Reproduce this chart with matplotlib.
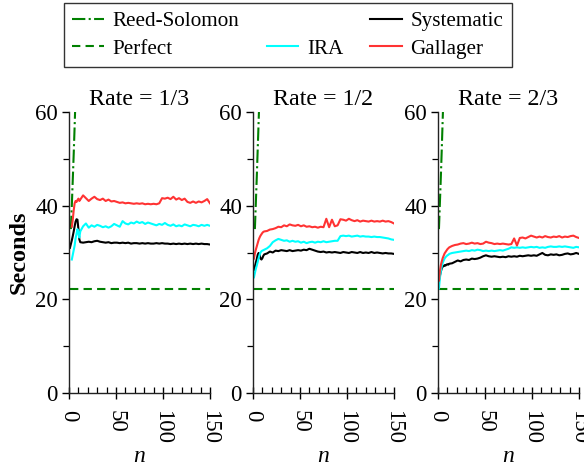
import numpy as np
import matplotlib.pyplot as plt
from matplotlib.lines import Line2D
from matplotlib.ticker import MultipleLocator

plt.rcParams['font.family'] = ['Liberation Serif', 'DejaVu Serif']

# block sizes n shared by the three rate panels
n_vals = [1, 2, 3, 4, 5, 6, 7, 8, 9, 10, 11, 12,
          15, 18, 21, 24, 27, 30, 33, 36, 39, 42, 45, 48, 51, 54, 57, 60,
          63, 66, 69, 72, 75, 78, 81, 84, 87, 90, 93, 96, 99, 102, 105, 108,
          111, 114, 117, 120, 123, 126, 129, 132, 135, 138, 141, 144, 147, 150]

rates = ['Rate = 1/3', 'Rate = 1/2', 'Rate = 2/3']
perfect = 22.3

rs_n = [[2, 3, 4, 5, 6, 7], [2, 3, 4, 5, 6, 7], [1, 2, 3, 4, 5, 6]]
rs_sec = [[35.0, 40.0, 45.5, 51.0, 57.0, 63.5],
          [35.0, 40.5, 46.0, 52.0, 58.0, 64.5],
          [35.0, 40.5, 46.0, 52.0, 58.5, 65.0]]

systematic = [
    [31.0, 31.8, 32.6, 33.5, 34.5, 35.6, 36.6, 37.1, 37.0, 35.0, 32.8, 32.2,
     32.1, 32.2, 32.3, 32.2, 32.4, 32.5, 32.3, 32.2, 32.1, 32.2, 32.0, 32.1,
     32.1, 32.0, 32.1, 32.0, 32.1, 31.9, 32.0, 32.0, 31.9, 32.0, 31.9, 32.0,
     31.9, 31.9, 32.0, 31.9, 32.0, 31.9, 31.9, 31.8, 31.9, 31.8, 31.9, 31.8,
     31.9, 31.8, 31.9, 31.8, 31.9, 31.8, 31.9, 31.8, 31.8, 31.7],
    [26.3, 27.0, 27.8, 28.6, 29.5, 29.9, 29.5, 28.7, 28.5, 28.8, 29.3, 29.6,
     29.8, 30.2, 30.0, 30.4, 30.3, 30.5, 30.4, 30.3, 30.5, 30.3, 30.4, 30.5,
     30.4, 30.6, 30.5, 30.8, 30.6, 30.4, 30.2, 30.1, 30.2, 30.0, 30.1, 30.0,
     30.1, 30.0, 29.9, 30.1, 30.0, 29.9, 30.1, 30.0, 29.9, 30.1, 29.9, 30.0,
     29.9, 30.1, 29.9, 30.0, 29.9, 29.8, 29.9, 29.8, 29.8, 29.7],
    [23.9, 25.0, 25.9, 26.6, 27.0, 27.1, 27.3, 27.2, 27.4, 27.5, 27.4, 27.6,
     27.7, 28.0, 28.3, 28.1, 28.4, 28.5, 28.4, 28.7, 28.6, 28.7, 28.9, 29.2,
     29.4, 29.2, 29.1, 29.2, 29.1, 29.0, 29.1, 29.0, 29.2, 29.1, 29.2, 29.1,
     29.3, 29.2, 29.3, 29.4, 29.3, 29.4, 29.3, 29.6, 29.9, 29.5, 29.4, 29.6,
     29.5, 29.6, 29.4, 29.5, 29.7, 29.8, 29.6, 29.7, 29.9, 29.7],
]

ira = [
    [np.nan, np.nan, 28.5, 29.5, 30.5, 31.5, 33.0, 34.0, 35.0, 34.2, 33.2, 34.5,
     35.6, 36.2, 35.3, 35.8, 35.5, 35.9, 35.7, 35.4, 35.6, 35.3, 35.6, 36.1,
     35.8, 35.5, 36.7, 36.2, 36.0, 36.4, 36.2, 36.6, 36.3, 36.5, 36.1, 36.4,
     36.2, 36.0, 35.8, 36.1, 35.9, 36.3, 35.9, 35.7, 36.0, 35.6, 35.8, 35.6,
     36.0, 35.8, 35.6, 35.9, 35.8, 35.6, 35.9, 35.7, 35.9, 35.7],
    [24.7, 25.6, 26.5, 27.2, 28.0, 28.8, 29.5, 30.0, 30.3, 30.4, 30.5, 30.6,
     30.9, 31.4, 32.2, 32.6, 32.9, 32.7, 32.5, 32.6, 32.3, 32.5, 32.3, 32.4,
     32.1, 32.3, 32.0, 32.2, 32.3, 32.1, 32.3, 32.2, 32.4, 32.2, 32.3, 32.4,
     32.5, 32.5, 33.5, 33.6, 33.5, 33.6, 33.4, 33.5, 33.6, 33.4, 33.5, 33.4,
     33.4, 33.3, 33.4, 33.3, 33.3, 33.2, 33.1, 33.0, 32.8, 32.7],
    [22.3, 24.5, 26.0, 27.0, 27.8, 28.3, 28.7, 29.0, 29.2, 29.4, 29.5, 29.7,
     29.9, 30.0, 30.1, 30.2, 30.3, 30.4, 30.3, 30.5, 30.4, 30.6, 30.5, 30.3,
     30.4, 30.3, 30.4, 30.3, 30.4, 30.5, 30.4, 30.6, 30.8, 31.1, 31.0, 31.1,
     31.0, 31.1, 31.0, 31.1, 31.2, 31.1, 31.2, 31.0, 31.1, 31.0, 31.2, 31.3,
     31.2, 31.2, 31.3, 31.2, 31.3, 31.2, 31.1, 31.0, 31.2, 31.1],
]

gallager = [
    [np.nan, np.nan, 35.5, 37.0, 39.0, 40.5, 41.0, 40.8, 41.2, 41.5, 41.0, 41.3,
     42.2, 41.6, 41.0, 41.5, 41.9, 41.4, 41.2, 41.5, 41.0, 41.3, 40.9, 41.0,
     40.8, 40.6, 40.7, 40.5, 40.6, 40.5, 40.4, 40.5, 40.4, 40.5, 40.3, 40.4,
     40.3, 40.4, 40.3, 40.5, 41.6, 41.5, 41.7, 41.4, 41.9, 41.3, 41.6, 41.2,
     41.5, 40.8, 40.6, 40.9, 40.6, 40.9, 40.7, 41.0, 41.4, 40.5],
    [28.7, 29.8, 30.6, 31.3, 32.0, 32.7, 33.2, 33.6, 33.9, 34.2, 34.4, 34.5,
     34.6, 34.9, 35.0, 35.2, 35.5, 35.4, 35.8, 35.6, 36.0, 35.8, 35.7, 35.9,
     35.6, 35.8, 35.5, 35.6, 35.4, 35.5, 35.3, 35.5, 35.4, 37.2, 35.4, 37.0,
     35.6, 35.8, 37.1, 37.0, 36.8, 37.2, 36.9, 36.7, 36.9, 36.6, 36.8, 36.7,
     36.6, 36.8, 36.6, 36.7, 36.6, 36.8, 36.6, 36.7, 36.5, 36.2],
    [24.0, 26.0, 27.3, 28.1, 28.8, 29.3, 29.8, 30.1, 30.4, 30.7, 30.9, 31.1,
     31.4, 31.6, 31.7, 31.9, 32.0, 31.8, 31.9, 32.1, 31.9, 32.0, 31.8, 31.9,
     32.3, 32.1, 32.0, 31.8, 31.9, 31.8, 31.9, 31.8, 31.7, 31.8, 33.0, 31.5,
     33.1, 33.2, 33.0, 33.3, 33.6, 33.4, 33.2, 33.4, 33.2, 33.5, 33.3, 33.2,
     33.4, 33.3, 33.5, 33.2, 33.4, 33.3, 33.5, 33.6, 33.3, 33.1],
]

GREEN = '#008000'
CYAN = '#00ffff'
RED = '#ff3333'
LW = 1.5

fig = plt.figure(figsize=(5.84, 4.66), dpi=100)
lefts = [69 / 584, 253 / 584, 438 / 584]
axes = [fig.add_axes([l, 73 / 466, 141 / 584, 281 / 466]) for l in lefts]

for i, ax in enumerate(axes):
    ax.plot(rs_n[i], rs_sec[i], color=GREEN, ls='-.', lw=LW)
    ax.plot([n_vals[0], n_vals[-1]], [perfect, perfect], color=GREEN,
            ls=(0, (4, 2.5)), lw=LW)
    ax.plot(n_vals, systematic[i], color='black', lw=LW)
    ax.plot(n_vals, ira[i], color=CYAN, lw=LW)
    ax.plot(n_vals, gallager[i], color=RED, lw=LW)

    ax.set_xlim(0, 150)
    ax.set_ylim(0, 60)
    for s in ['top', 'right']:
        ax.spines[s].set_visible(False)
    for s in ['left', 'bottom']:
        ax.spines[s].set_linewidth(1.0)
        ax.spines[s].set_color('#222222')

    ax.xaxis.set_major_locator(MultipleLocator(50))
    ax.xaxis.set_minor_locator(MultipleLocator(10))
    ax.yaxis.set_major_locator(MultipleLocator(20))
    ax.yaxis.set_minor_locator(MultipleLocator(10))
    ax.tick_params(axis='x', which='major', direction='inout', length=8,
                   width=1.0, labelsize=16.5, pad=8, labelrotation=270)
    ax.tick_params(axis='x', which='minor', direction='in', length=4,
                   width=0.9)
    ax.tick_params(axis='y', which='major', direction='out', length=5,
                   width=1.0, labelsize=16.5, pad=3)
    ax.tick_params(axis='y', which='minor', direction='out', length=4,
                   width=0.9)

    ax.set_title(rates[i], fontsize=17.3, pad=5)
    ax.set_xlabel('n', fontsize=17, fontstyle='italic', labelpad=2)

axes[0].set_ylabel('Seconds', fontsize=17.5, fontweight='bold', labelpad=4)

handles = [
    Line2D([], [], color=GREEN, ls='-.', lw=LW),
    Line2D([], [], color=GREEN, ls=(0, (4, 2.5)), lw=LW),
    Line2D([], [], color='none'),
    Line2D([], [], color=CYAN, lw=LW),
    Line2D([], [], color='black', lw=LW),
    Line2D([], [], color=RED, lw=LW),
]
labels = ['Reed-Solomon', 'Perfect', ' ', 'IRA', 'Systematic', 'Gallager']
leg = fig.legend(handles, labels, ncol=3, loc='upper center',
                 bbox_to_anchor=(0.493, 0.994), fontsize=15.2, frameon=True,
                 fancybox=False, edgecolor='black', handlelength=1.5,
                 handletextpad=0.4, columnspacing=1.3, borderpad=0.4,
                 labelspacing=0.38, borderaxespad=0)
leg.get_frame().set_linewidth(1.0)

fig.savefig('out.png', dpi=100)
